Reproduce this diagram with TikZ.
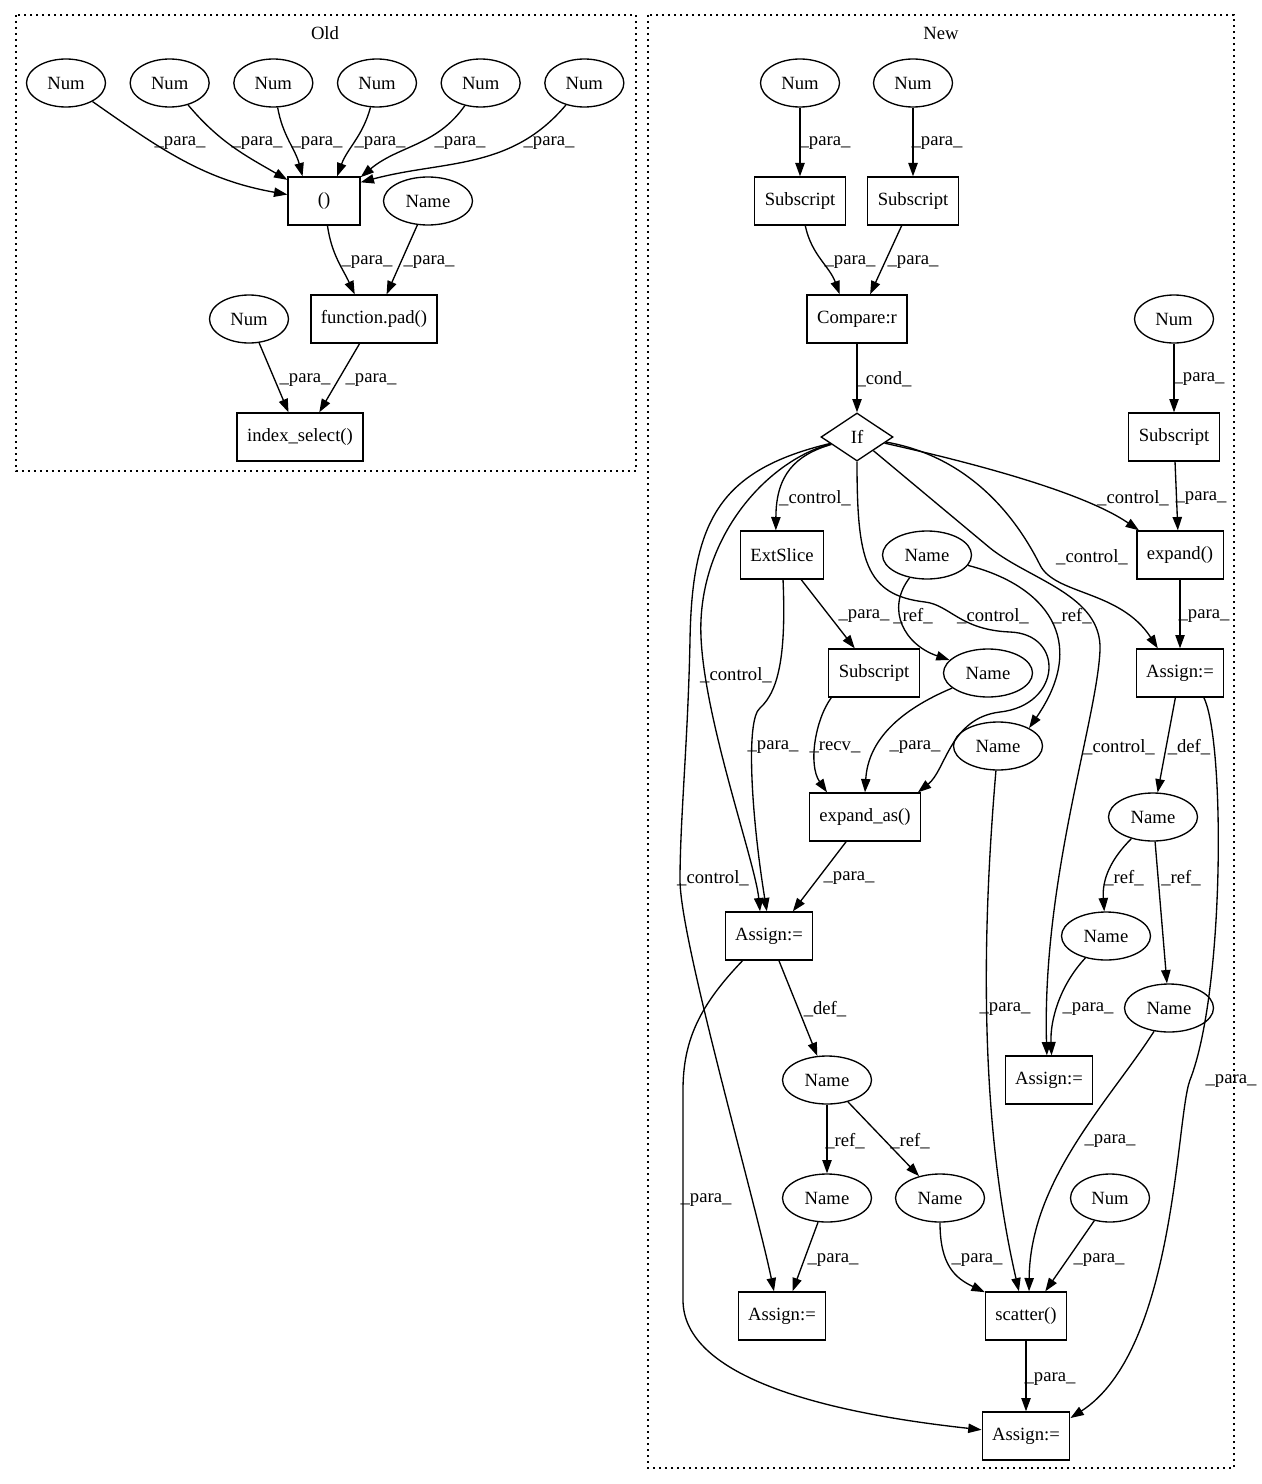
\documentclass[tikz,border=0pt]{standalone}
\usepackage{fontspec}
\setmainfont{Liberation Serif}
\usetikzlibrary{positioning}
\usetikzlibrary{shapes.geometric}
\usetikzlibrary{arrows.meta}

\begin{document}
\begin{tikzpicture}[x=0.75pt, y=-0.75pt, line width=1pt,
  >={Triangle[length=10pt,width=7pt]},
  every node/.style={font=\fontsize{14}{16}\selectfont},
  num/.style={draw, ellipse, minimum width=59.25pt, minimum height=36pt, inner sep=0pt},
  var/.style={draw, ellipse, minimum width=66.75pt, minimum height=36pt, inner sep=0pt},
  op/.style={draw, rectangle, minimum width=54pt, minimum height=36pt, inner xsep=7.5pt, inner ysep=0pt},
  cnd/.style={draw, diamond, minimum width=54pt, minimum height=36pt, inner sep=0pt},
  lbl/.style={inner sep=0pt},
  cluster/.style={dash pattern=on 1.3pt off 3.2pt}]
\useasboundingbox (0,0) rectangle (1261,1484);

\draw[cluster] (16,15) rectangle (636,471);
\draw[cluster] (648,15) rectangle (1234,1468);
\node (old) at (325,33) {Old};
\node (new) at (941,33) {New};

\node[num] (n1) at (66,83) {Num};
\node[num, right=17.5pt of n1] (n2) {Num};
\node[num, right=17.5pt of n2] (n3) {Num};
\node[num, right=17.5pt of n3] (n4) {Num};
\node[num, right=17.5pt of n4] (n5) {Num};
\node[num, right=17.5pt of n5] (n6) {Num};
\node[op] (tup) at (324,201) {()};
\node[var] (nmo) at (428,201) {Name};
\node[op] (pad) at (374,319) {function.pad()};
\node[num] (nmi) at (249,319) {Num};
\node[op] (isel) at (300,437) {index\_select()};

\draw[->] (n1) to[out=-35,in=170] (tup) node[lbl] at (180,143) {\_para\_};
\draw[->] (n2) to[out=-50,in=150] (tup) node[lbl] at (257,143) {\_para\_};
\draw[->] (n3) to[out=-80,in=105] (tup.131) node[lbl] at (317,143) {\_para\_};
\draw[->] (n4) to[out=-105,in=70] (tup.62) node[lbl] at (380,143) {\_para\_};
\draw[->] (n5) to[out=-125,in=40] (tup.33) node[lbl] at (460,143) {\_para\_};
\draw[->] (n6) to[out=-130,in=15] (tup.27) node[lbl] at (549,143) {\_para\_};
\draw[->] (tup) to[out=-82,in=115] (pad.128) node[lbl] at (367,262) {\_para\_};
\draw[->] (nmo) -- (pad.63) node[lbl] at (429,262) {\_para\_};
\draw[->] (nmi) -- (isel.115) node[lbl] at (305,380) {\_para\_};
\draw[->] (pad) -- (isel.52) node[lbl] at (371,380) {\_para\_};

\node[num] (numa) at (800,83) {Num};
\node[num] (numb) at (913,83) {Num};
\node[op] (suba) at (800,201) {Subscript};
\node[op] (subb) at (913,201) {Subscript};
\node[op] (cmp) at (857,319) {Compare:r};
\node[num] (numc) at (1174,319) {Num};
\node[cnd] (ifn) at (857,437) {If};
\node[op] (subc) at (1174,437) {Subscript};
\node[op] (ext) at (782,555) {ExtSlice};
\node[var] (nma) at (927,555) {Name};
\node[op] (expd) at (1180,555) {expand()};
\node[op] (subd) at (874,673) {Subscript};
\node[var] (nmb) at (988,673) {Name};
\node[op] (asa) at (1180,673) {Assign:=};
\node[var] (nmc) at (998,746) {Name};
\node[op] (exas) at (865,817) {expand\_as()};
\node[var] (nmd) at (1153,817) {Name};
\node[op] (asb) at (769,936) {Assign:=};
\node[var] (nme) at (1106,936) {Name};
\node[var] (nmf) at (1169,1008) {Name};
\node[op] (asc) at (1049,1080) {Assign:=};
\node[var] (nmg) at (827,1080) {Name};
\node[var] (nmh) at (827,1198) {Name};
\node[var] (nmj) at (940,1198) {Name};
\node[num] (numd) at (1110,1198) {Num};
\node[op] (asd) at (782,1316) {Assign:=};
\node[op] (sct) at (1026,1316) {scatter()};
\node[op] (ase) at (1026,1436) {Assign:=};

\draw[->] (numa) -- (suba) node[lbl] at (825,143) {\_para\_};
\draw[->] (numb) -- (subb) node[lbl] at (937,143) {\_para\_};
\draw[->] (suba) to[out=-78,in=110] (cmp.125) node[lbl] at (850,262) {\_para\_};
\draw[->] (subb) -- (cmp.62) node[lbl] at (913,262) {\_para\_};
\draw[->] (cmp) -- (ifn) node[lbl] at (884,379) {\_cond\_};
\draw[->] (numc) -- (subc) node[lbl] at (1199,379) {\_para\_};
\draw[->] (subc) -- (expd.95) node[lbl] at (1201,498) {\_para\_};
\draw[->] (ifn) .. controls (960,460) and (1080,490) .. (expd.149) node[lbl] at (1133,498) {\_control\_};
\draw[->] (ifn) .. controls (795,455) and (776,475) .. (ext.104) node[lbl] at (815,498) {\_control\_};
\draw[->] (ifn) .. controls (720,470) and (692,520) .. (690,640) .. controls (688,740) and (680,820) .. (680,880) .. controls (680,940) and (755,1200) .. (asd.108) node[lbl] at (713,878) {\_control\_};
\draw[->] (ifn) .. controls (770,460) and (705,530) .. (701,620) .. controls (697,700) and (755,860) .. (asb.110) node[lbl] at (736,675) {\_control\_};
\draw[->] (ext) .. controls (786,650) and (780,690) .. (760,708) .. controls (745,720) and (752,820) .. (asb.95) node[lbl] at (773,747) {\_para\_};
\draw[->] (ifn.south) .. controls (857,560) and (865,595) .. (925,602) .. controls (950,605) and (960,630) .. (1010,632) .. controls (1065,634) and (1062,705) .. (1000,712) .. controls (950,718) and (946,770) .. (exas.25) node[lbl] at (993,616) {\_control\_};
\draw[->] (ifn) -- (990,548) .. controls (1030,580) and (1102,595) .. (1100,650) .. controls (1097,720) and (1042,880) .. (asc.95) node[lbl] at (1119,747) {\_control\_};
\draw[->] (ifn) .. controls (960,455) and (1010,505) .. (1040,565) .. controls (1055,595) and (1120,590) .. (asa.132) node[lbl] at (1092,557) {\_control\_};
\draw[->] (nma) .. controls (885,610) and (905,645) .. (nmb) node[lbl] at (913,616) {\_ref\_};
\draw[->] (nma) .. controls (1045,585) and (1090,640) .. (nmc.30) node[lbl] at (1072,616) {\_ref\_};
\draw[->] (ext) -- (subd.128) node[lbl] at (864,616) {\_para\_};
\draw[->] (expd) -- (asa) node[lbl] at (1204,616) {\_para\_};
\draw[->] (subd.-150) .. controls (815,720) and (808,765) .. (exas.147) node[lbl] at (835,747) {\_recv\_};
\draw[->] (nmb) .. controls (900,710) and (868,740) .. (exas.north) node[lbl] at (915,747) {\_para\_};
\draw[->] (asa) -- (nmd) node[lbl] at (1189,747) {\_def\_};
\draw[->] (exas) -- (asb.46) node[lbl] at (849,878) {\_para\_};
\draw[->] (nmd) .. controls (1110,860) and (1102,880) .. (nme) node[lbl] at (1124,878) {\_ref\_};
\draw[->] (nmd) -- (nmf) node[lbl] at (1181,878) {\_ref\_};
\draw[->] (asb) -- (nmg) node[lbl] at (825,1009) {\_def\_};
\draw[->] (nmc) .. controls (985,900) and (975,1100) .. (sct.106) node[lbl] at (1005,1009) {\_para\_};
\draw[->] (nme) .. controls (1060,985) and (1050,1020) .. (asc.84) node[lbl] at (1088,1009) {\_para\_};
\draw[->] (asa.-46) .. controls (1225,740) and (1225,990) .. (1190,1080) .. controls (1176,1116) and (1176,1350) .. (ase.22) node[lbl] at (1231,1081) {\_para\_};
\draw[->] (nmg) -- (nmh) node[lbl] at (845,1141) {\_ref\_};
\draw[->] (nmg) -- (nmj) node[lbl] at (910,1141) {\_ref\_};
\draw[->] (nmf) .. controls (1110,1100) and (1030,1180) .. (sct.83) node[lbl] at (1110,1141) {\_para\_};
\draw[->] (asb.-137) .. controls (700,1005) and (683,1040) .. (683,1090) -- (683,1300) .. controls (683,1370) and (800,1410) .. (ase.172) node[lbl] at (706,1200) {\_para\_};
\draw[->] (nmh) -- (asd.67) node[lbl] at (833,1260) {\_para\_};
\draw[->] (nmj) .. controls (940,1265) and (955,1278) .. (sct.150) node[lbl] at (977,1260) {\_para\_};
\draw[->] (numd) -- (sct.52) node[lbl] at (1099,1260) {\_para\_};
\draw[->] (sct) -- (ase) node[lbl] at (1050,1379) {\_para\_};
\end{tikzpicture}
\end{document}
